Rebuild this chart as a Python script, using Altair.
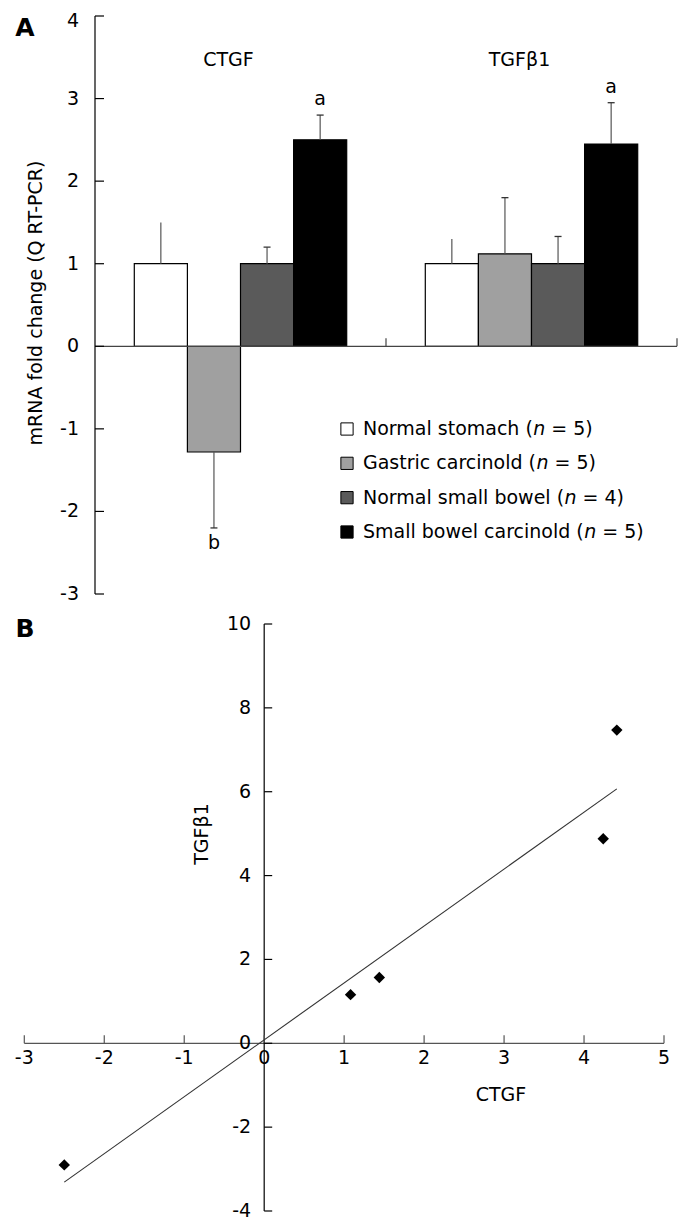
import os
import struct
import altair as alt
import pandas as pd

# ---------------- data ----------------
groups = ["CTGF", "TGFβ1"]
series = ["Normal stomach", "Gastric carcinold", "Normal small bowel", "Small bowel carcinold"]
series_n = [5, 5, 4, 5]
ctgf_mean = [1.0, -1.28, 1.0, 2.5]
ctgf_err = [0.5, 0.92, 0.2, 0.3]
tgfb1_mean = [1.0, 1.12, 1.0, 2.45]
tgfb1_err = [0.3, 0.68, 0.33, 0.5]
ctgf_sig = ["", "b", "", "a"]
tgfb1_sig = ["", "", "", "a"]
fold_ticks = [-3, -2, -1, 0, 1, 2, 3, 4]

scatter_ctgf = [-2.5, 1.08, 1.44, 4.24, 4.41]
scatter_tgfb1 = [-2.9, 1.16, 1.57, 4.88, 7.47]
b_x_ticks = [-3, -2, -1, 0, 1, 2, 3, 4, 5]
b_y_ticks = [-4, -2, 0, 2, 4, 6, 8, 10]

# ---------------- styles / layout ----------------
FONT = "DejaVu Sans"
FS = 19
bar_colors = ["#ffffff", "#a0a0a0", "#5a5a5a", "#000000"]
W, H = 680, 1216
A_X_RANGE = [87, 669]
A_Y_RANGE = [586, 8]
B_X_RANGE = [16.3, 656]
B_Y_RANGE = [1203, 616]


# ---------------- font metrics for the italic "n" in the legend ----------------
def _find_font(name):
    for root in ("/usr/share/fonts", "/usr/local/share/fonts", os.path.expanduser("~/.fonts")):
        if not os.path.isdir(root):
            continue
        for dp, _, files in os.walk(root):
            if name in files:
                return os.path.join(dp, name)
    return None


def _font_widths(path):
    if not path:
        return None
    try:
        with open(path, "rb") as fh:
            d = fh.read()
        n = struct.unpack(">H", d[4:6])[0]
        tabs = {}
        for i in range(n):
            base = 12 + 16 * i
            tag = d[base:base + 4].decode("latin-1")
            off = struct.unpack(">I", d[base + 8:base + 12])[0]
            tabs[tag] = off
        upem = struct.unpack(">H", d[tabs["head"] + 18:tabs["head"] + 20])[0]
        nhm = struct.unpack(">H", d[tabs["hhea"] + 34:tabs["hhea"] + 36])[0]
        hm = tabs["hmtx"]
        adv = [struct.unpack(">H", d[hm + 4 * i:hm + 4 * i + 2])[0] for i in range(nhm)]
        cm = tabs["cmap"]
        nsub = struct.unpack(">H", d[cm + 2:cm + 4])[0]
        sub = None
        for i in range(nsub):
            pid, eid, off = struct.unpack(">HHI", d[cm + 4 + 8 * i:cm + 12 + 8 * i])
            if struct.unpack(">H", d[cm + off:cm + off + 2])[0] == 4 and pid in (0, 3):
                sub = cm + off
                break
        if sub is None:
            return None
        segx2 = struct.unpack(">H", d[sub + 6:sub + 8])[0]
        seg = segx2 // 2
        ends = struct.unpack(">%dH" % seg, d[sub + 14:sub + 14 + segx2])
        st = sub + 16 + segx2
        starts = struct.unpack(">%dH" % seg, d[st:st + segx2])
        deltas = struct.unpack(">%dH" % seg, d[st + segx2:st + 2 * segx2])
        ro_pos = st + 2 * segx2
        ros = struct.unpack(">%dH" % seg, d[ro_pos:ro_pos + segx2])

        def width(ch):
            c = ord(ch)
            for i in range(seg):
                if ends[i] >= c:
                    if starts[i] > c:
                        return adv[0] / upem
                    if ros[i] == 0:
                        gid = (c + deltas[i]) & 0xFFFF
                    else:
                        a = ro_pos + 2 * i + ros[i] + 2 * (c - starts[i])
                        gid = struct.unpack(">H", d[a:a + 2])[0]
                        if gid:
                            gid = (gid + deltas[i]) & 0xFFFF
                    return adv[min(gid, nhm - 1)] / upem
            return adv[0] / upem

        width("a")
        return width
    except Exception:
        return None


_FALLBACK = {" ": 651, "(": 799, ")": 799, "=": 1716, "G": 1589, "N": 1532, "S": 1300,
             "a": 1255, "b": 1300, "c": 1126, "d": 1300, "e": 1260, "h": 1298, "i": 569,
             "l": 569, "m": 1995, "n": 1298, "o": 1253, "r": 842, "s": 1067, "t": 803,
             "w": 1675}

_w_reg = _font_widths(_find_font("DejaVuSans.ttf"))
_w_obl = _font_widths(_find_font("DejaVuSans-Oblique.ttf")) or _w_reg


def text_width(s, fn, size=FS):
    if fn is None:
        return sum(_FALLBACK.get(ch, 1200) for ch in s) / 2048 * size
    return sum(fn(ch) for ch in s) * size


# ---------------- panel A : bar chart ----------------
rows = []
for g, means, errs, sigs in [(groups[0], ctgf_mean, ctgf_err, ctgf_sig),
                             (groups[1], tgfb1_mean, tgfb1_err, tgfb1_sig)]:
    for s, m, e, sig in zip(series, means, errs, sigs):
        rows.append(dict(group=g, series=s, mean=m, zero=0,
                         hi=(m + e) if m >= 0 else (m - e),
                         sig=sig, up=bool(m >= 0), cap=bool(s != series[0])))
df_bars = pd.DataFrame(rows)

xA_scale = alt.Scale(domain=groups, range=A_X_RANGE, paddingInner=0, paddingOuter=0)
yA_scale = alt.Scale(domain=[min(fold_ticks), max(fold_ticks)], range=A_Y_RANGE, nice=False)
xA = alt.X("group:N", scale=xA_scale, axis=None)
xoA = alt.XOffset("series:N", scale=alt.Scale(domain=series, paddingInner=0, paddingOuter=0.74))
fill_scale = alt.Scale(domain=series, range=bar_colors)

bars = alt.Chart(df_bars).mark_bar(stroke="black", strokeWidth=1.2).encode(
    x=xA, xOffset=xoA,
    y=alt.Y("mean:Q", scale=yA_scale, axis=None), y2="zero:Q",
    fill=alt.Fill("series:N", scale=fill_scale, legend=None),
)
err_rules = alt.Chart(df_bars).mark_rule(color="#555555", strokeWidth=1.2).encode(
    x=xA, xOffset=xoA,
    y=alt.Y("mean:Q", scale=yA_scale, axis=None), y2="hi:Q",
)
err_caps = alt.Chart(df_bars).transform_filter("datum.cap").mark_tick(
    orient="horizontal", size=7, thickness=1.3, color="#333333", opacity=1
).encode(x=xA, xOffset=xoA, y=alt.Y("hi:Q", scale=yA_scale, axis=None))
sig_up = alt.Chart(df_bars).transform_filter("datum.sig != '' && datum.up").mark_text(
    font=FONT, fontSize=FS, baseline="alphabetic", dy=-10, color="black"
).encode(x=xA, xOffset=xoA, y=alt.Y("hi:Q", scale=yA_scale, axis=None), text="sig:N")
sig_down = alt.Chart(df_bars).transform_filter("datum.sig != '' && !datum.up").mark_text(
    font=FONT, fontSize=FS, baseline="top", dy=6, color="black"
).encode(x=xA, xOffset=xoA, y=alt.Y("hi:Q", scale=yA_scale, axis=None), text="sig:N")

df_fold = pd.DataFrame({"v": fold_ticks, "label": [str(t) for t in fold_ticks],
                        "top": [t == max(fold_ticks) for t in fold_ticks]})
df_fold_ext = pd.DataFrame({"lo": [min(fold_ticks)], "hi": [max(fold_ticks)]})
yaxis_A = alt.Chart(df_fold_ext).mark_rule(color="black", strokeWidth=1.2).encode(
    x=alt.value(A_X_RANGE[0]), y=alt.Y("lo:Q", scale=yA_scale, axis=None), y2="hi:Q")
yticks_A = alt.Chart(df_fold).mark_tick(orient="horizontal", size=9, thickness=1.2,
                                        color="black", opacity=1).encode(
    x=alt.value(A_X_RANGE[0] + 4.5), y=alt.Y("v:Q", scale=yA_scale, axis=None))
ylabels_A = alt.Chart(df_fold).transform_filter("!datum.top").mark_text(
    font=FONT, fontSize=FS, align="right", baseline="middle", dx=-16, color="black").encode(
    x=alt.value(A_X_RANGE[0]), y=alt.Y("v:Q", scale=yA_scale, axis=None), text="label:N")
ylabel_top_A = alt.Chart(df_fold).transform_filter("datum.top").mark_text(
    font=FONT, fontSize=FS, align="right", baseline="middle", dx=-16, dy=4.5,
    color="black").encode(
    x=alt.value(A_X_RANGE[0]), y=alt.Y("v:Q", scale=yA_scale, axis=None), text="label:N")

df_groups = pd.DataFrame({"group": groups, "zero": [0] * len(groups)})
xaxis_A = alt.Chart(df_groups.head(1)).mark_rule(color="#444444", strokeWidth=1.2).encode(
    x=alt.value(A_X_RANGE[0]), x2=alt.value(A_X_RANGE[1]),
    y=alt.Y("zero:Q", scale=yA_scale, axis=None))
xticks_A = alt.Chart(df_groups).mark_tick(orient="vertical", size=8, thickness=1.2,
                                          yOffset=-4, color="#444444", opacity=1).encode(
    x=alt.X("group:N", scale=xA_scale, axis=None, bandPosition=1),
    y=alt.Y("zero:Q", scale=yA_scale, axis=None))
group_labels = alt.Chart(df_groups).mark_text(font=FONT, fontSize=FS, baseline="middle",
                                              dx=-12, color="black").encode(
    x=xA, y=alt.value(52), text="group:N")
ytitle_A = alt.Chart(pd.DataFrame({"t": ["mRNA fold change (Q RT-PCR)"]})).mark_text(
    font=FONT, fontSize=FS, angle=270, align="center", baseline="middle", color="black"
).encode(x=alt.value(28), y=alt.value(295), text="t:N")
letter_A = alt.Chart(pd.DataFrame({"t": ["A"]})).mark_text(
    font=FONT, fontSize=25, fontWeight="bold", align="center", baseline="middle", color="black"
).encode(x=alt.value(17), y=alt.value(19.5), text="t:N")

panelA = alt.layer(bars, err_rules, err_caps, xaxis_A, xticks_A, yaxis_A, yticks_A,
                   ylabels_A, ylabel_top_A, sig_up, sig_down, group_labels, ytitle_A, letter_A)

# ---------------- legend of panel A ----------------
LEG_X0 = 355
leg_rows = []
for s, n in zip(series, series_n):
    pre = f"{s} ("
    suf = f"= {n})"
    xn = LEG_X0 + text_width(pre, _w_reg)
    xs = xn + text_width("n", _w_obl) + text_width(" ", _w_reg)
    leg_rows.append(dict(series=s, pre=pre, suf=suf, nn="n", x_pre=LEG_X0, x_n=xn, x_suf=xs))
df_leg = pd.DataFrame(leg_rows)

y_leg = alt.Y("series:N", scale=alt.Scale(type="point", domain=series, range=[421, 524],
                                          padding=0), axis=None)
px_scale = alt.Scale(domain=[0, W], range=[0, W])
leg_squares = alt.Chart(df_leg).mark_square(size=150, stroke="black", strokeWidth=1,
                                            opacity=1).encode(
    x=alt.value(339), y=y_leg, fill=alt.Fill("series:N", scale=fill_scale, legend=None))
leg_pre = alt.Chart(df_leg).mark_text(font=FONT, fontSize=FS, align="left",
                                      baseline="middle", color="black").encode(
    x=alt.X("x_pre:Q", scale=px_scale, axis=None), y=y_leg, text="pre:N")
leg_n = alt.Chart(df_leg).mark_text(font=FONT, fontSize=FS, fontStyle="italic", align="left",
                                    baseline="middle", color="black").encode(
    x=alt.X("x_n:Q", scale=px_scale, axis=None), y=y_leg, text="nn:N")
leg_suf = alt.Chart(df_leg).mark_text(font=FONT, fontSize=FS, align="left",
                                      baseline="middle", color="black").encode(
    x=alt.X("x_suf:Q", scale=px_scale, axis=None), y=y_leg, text="suf:N")
legend = alt.layer(leg_squares, leg_pre, leg_n, leg_suf)

# ---------------- panel B : scatter with regression ----------------
df_sc = pd.DataFrame({"ctgf": scatter_ctgf, "tgfb1": scatter_tgfb1})
xB_scale = alt.Scale(domain=[min(b_x_ticks), max(b_x_ticks)], range=B_X_RANGE, nice=False, zero=False)
yB_scale = alt.Scale(domain=[min(b_y_ticks), max(b_y_ticks)], range=B_Y_RANGE, nice=False, zero=False)

df_bx = pd.DataFrame({"v": b_x_ticks, "zero": [0] * len(b_x_ticks),
                      "label": [str(t) for t in b_x_ticks]})
df_by = pd.DataFrame({"v": b_y_ticks, "zero": [0] * len(b_y_ticks),
                      "label": [str(t) for t in b_y_ticks]})
df_bext = pd.DataFrame({"xlo": [min(b_x_ticks)], "xhi": [max(b_x_ticks)],
                        "ylo": [min(b_y_ticks)], "yhi": [max(b_y_ticks)], "zero": [0]})

xaxis_B = alt.Chart(df_bext).mark_rule(color="#555555", strokeWidth=1.2).encode(
    x=alt.X("xlo:Q", scale=xB_scale, axis=None), x2="xhi:Q",
    y=alt.Y("zero:Q", scale=yB_scale, axis=None))
yaxis_B = alt.Chart(df_bext).mark_rule(color="black", strokeWidth=1.2).encode(
    x=alt.X("zero:Q", scale=xB_scale, axis=None),
    y=alt.Y("ylo:Q", scale=yB_scale, axis=None), y2="yhi:Q")
xticks_B = alt.Chart(df_bx).mark_tick(orient="vertical", size=8, thickness=1.2, yOffset=-4,
                                      color="#555555", opacity=1).encode(
    x=alt.X("v:Q", scale=xB_scale, axis=None), y=alt.Y("zero:Q", scale=yB_scale, axis=None))
yticks_B = alt.Chart(df_by).mark_tick(orient="horizontal", size=8, thickness=1.2, xOffset=4,
                                      color="black", opacity=1).encode(
    x=alt.X("zero:Q", scale=xB_scale, axis=None), y=alt.Y("v:Q", scale=yB_scale, axis=None))
xlabels_B = alt.Chart(df_bx).mark_text(font=FONT, fontSize=FS, align="center",
                                       baseline="middle", dy=15, color="black").encode(
    x=alt.X("v:Q", scale=xB_scale, axis=None), y=alt.Y("zero:Q", scale=yB_scale, axis=None),
    text="label:N")
ylabels_B = alt.Chart(df_by).mark_text(font=FONT, fontSize=FS, align="right",
                                       baseline="middle", dx=-13, color="black").encode(
    x=alt.X("zero:Q", scale=xB_scale, axis=None), y=alt.Y("v:Q", scale=yB_scale, axis=None),
    text="label:N")
fit_line = alt.Chart(df_sc).transform_regression("ctgf", "tgfb1").mark_line(
    color="#333333", strokeWidth=1.1).encode(
    x=alt.X("ctgf:Q", scale=xB_scale, axis=None), y=alt.Y("tgfb1:Q", scale=yB_scale, axis=None))
points = alt.Chart(df_sc).mark_point(shape="diamond", filled=True, size=130, color="black",
                                     opacity=1).encode(
    x=alt.X("ctgf:Q", scale=xB_scale, axis=None), y=alt.Y("tgfb1:Q", scale=yB_scale, axis=None))
xtitle_B = alt.Chart(pd.DataFrame({"t": ["CTGF"]})).mark_text(
    font=FONT, fontSize=FS, align="center", baseline="middle", color="black"
).encode(x=alt.value(493), y=alt.value(1087), text="t:N")
ytitle_B = alt.Chart(pd.DataFrame({"t": ["TGFβ1"]})).mark_text(
    font=FONT, fontSize=FS, angle=270, align="center", baseline="middle", color="black"
).encode(x=alt.value(194), y=alt.value(826), text="t:N")
letter_B = alt.Chart(pd.DataFrame({"t": ["B"]})).mark_text(
    font=FONT, fontSize=25, fontWeight="bold", align="center", baseline="middle", color="black"
).encode(x=alt.value(17), y=alt.value(621), text="t:N")

panelB = alt.layer(xaxis_B, yaxis_B, xticks_B, yticks_B, xlabels_B, ylabels_B,
                   fit_line, points, xtitle_B, ytitle_B, letter_B)

chart = alt.layer(panelA, legend, panelB).resolve_scale(
    x="independent", y="independent"
).properties(
    width=W, height=H, padding=0, autosize=alt.AutoSizeParams(type="none")
).configure_view(stroke=None)

chart.save("out.html", embed_options={"renderer": "svg", "actions": False})
